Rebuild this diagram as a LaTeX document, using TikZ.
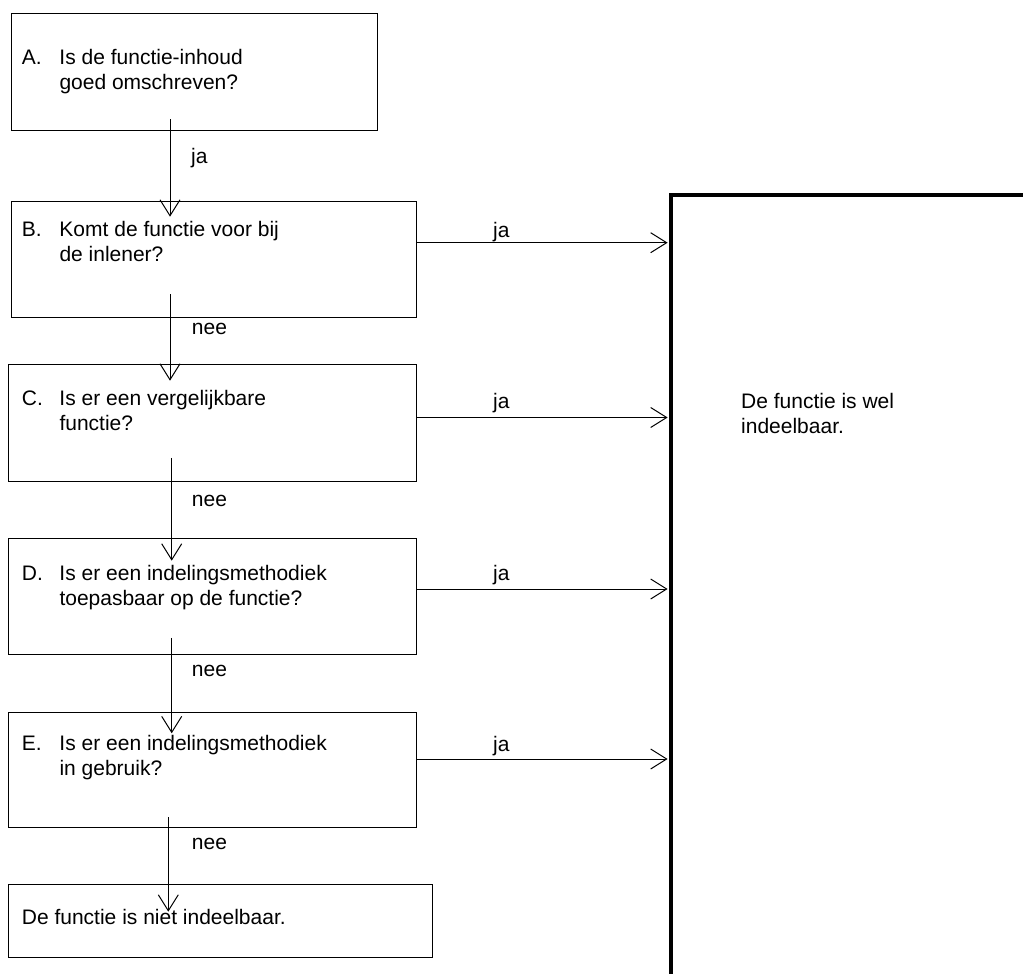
\documentclass[tikz,border=0pt]{standalone}
\usepackage{fontspec}
\setmainfont{Liberation Sans}
\usetikzlibrary{arrows.meta,calc}
\begin{document}
\begin{tikzpicture}[x=1pt,y=-1pt,
  box/.style={draw, line width=1.1pt, rectangle, inner sep=0pt, anchor=north west},
  bigbox/.style={draw, line width=3.4pt, rectangle, inner sep=0pt, anchor=north west},
  txt/.style={inner sep=0pt, align=left, anchor=north west, font=\fontsize{21}{25}\selectfont},
  lbl/.style={inner sep=0pt, anchor=base west, font=\fontsize{21}{25}\selectfont},
  arr/.style={line width=1pt, -{Straight Barb[length=16pt,width=20pt,line width=1pt]}}]
\useasboundingbox (0,0) rectangle (1023,974);
\clip (0,0) rectangle (1023,974);

% boxes
\node[box, minimum width=365.7pt, minimum height=116.7pt] (A) at (11,13.3) {};
\node[box, minimum width=405pt, minimum height=116pt] (B) at (11,200.7) {};
\node[box, minimum width=407.7pt, minimum height=116.7pt] (C) at (8.3,364) {};
\node[box, minimum width=407.7pt, minimum height=116pt] (D) at (8.3,538.3) {};
\node[box, minimum width=407.7pt, minimum height=115.6pt] (E) at (8.3,711.7) {};
\node[box, minimum width=424pt, minimum height=73pt] (F) at (8.3,884.3) {};
\node[bigbox, minimum width=500pt, minimum height=900pt] (W) at (669.3,193.3) {};

% texts
\node[txt] (At) at (21.7,47.2) {\strut\makebox[37.6pt][l]{A.}Is de functie-inhoud\\\hspace*{37.6pt}goed omschreven?};
\node[txt] (Bt) at (21.7,219.2) {\strut\makebox[37.6pt][l]{B.}Komt de functie voor bij\\\hspace*{37.6pt}de inlener?};
\node[txt] (Ct) at (21.7,388.2) {\strut\makebox[37.6pt][l]{C.}Is er een vergelijkbare\\\hspace*{37.6pt}functie?};
\node[txt] (Dt) at (21.7,563.2) {\strut\makebox[37.6pt][l]{D.}Is er een indelingsmethodiek\\\hspace*{37.6pt}toepasbaar op de functie?};
\node[txt] (Et) at (21.7,732.5) {\strut\makebox[37.6pt][l]{E.}Is er een indelingsmethodiek\\\hspace*{37.6pt}in gebruik?};
\node[txt] (Ft) at (21.7,906.5) {\strut De functie is niet indeelbaar.};
\node[txt] (Wt) at (741,390.5) {\strut De functie is wel\\indeelbaar.};

% vertical connectors
\draw[arr] ($(A.south west)+(159,-11.7)$) -- ($(B.north west)+(159,16)$);
\draw[arr] ($(B.south west)+(159,-23.7)$) -- ($(C.north west)+(161.7,16.7)$);
\draw[arr] ($(C.south west)+(163.4,-24)$) -- ($(D.north west)+(163.4,22.4)$);
\draw[arr] ($(D.south west)+(163.4,-17.6)$) -- ($(E.north west)+(163.4,21.6)$);
\draw[arr] ($(E.south west)+(160,-11.3)$) -- ($(F.north west)+(160,27.4)$);

% horizontal connectors
\draw[arr] ($(B.north east)+(0,42)$) -- ($(W.north west)+(-1.7,49.4)$);
\draw[arr] ($(C.north east)+(0,53.5)$) -- ($(W.north west)+(-1.7,224.2)$);
\draw[arr] ($(D.north east)+(0,50.7)$) -- ($(W.north west)+(-1.7,395.7)$);
\draw[arr] ($(E.north east)+(0,47.3)$) -- ($(W.north west)+(-1.7,565.7)$);

% labels
\node[lbl] (l1) at (191,163) {ja};
\node[lbl] (l2) at (191.7,334) {nee};
\node[lbl] (l3) at (191.7,506.5) {nee};
\node[lbl] (l4) at (191.7,676.5) {nee};
\node[lbl] (l5) at (191.7,849) {nee};
\node[lbl] (r1) at (493,237) {ja};
\node[lbl] (r2) at (493,408) {ja};
\node[lbl] (r3) at (493,580) {ja};
\node[lbl] (r4) at (493,751.5) {ja};
\end{tikzpicture}
\end{document}
